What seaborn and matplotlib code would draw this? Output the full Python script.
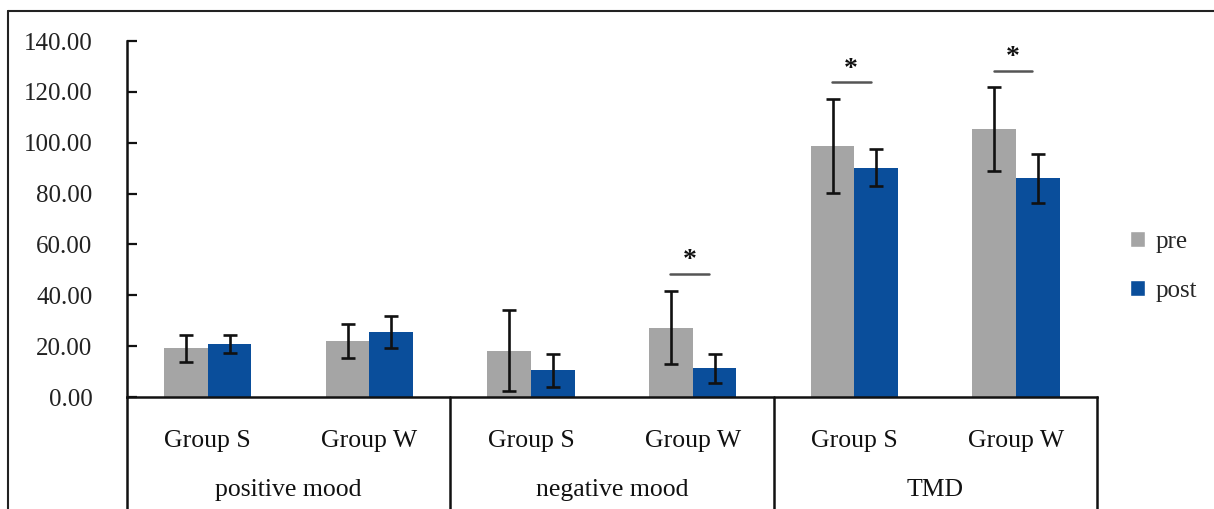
import matplotlib
matplotlib.use("Agg")
import matplotlib.pyplot as plt
import matplotlib.transforms as mtransforms
from matplotlib.patches import Patch
import numpy as np
import pandas as pd
import seaborn as sns

# Mood scores (mean and SD) before and after the intervention
measures = ["positive mood", "negative mood", "TMD"]
groups = ["Group S", "Group W"]
pre_mean = [19.1, 21.9, 18.2, 27.3, 98.7, 105.4]
post_mean = [20.8, 25.6, 10.5, 11.3, 90.2, 86.0]
pre_sd = [5.4, 6.7, 15.9, 14.5, 18.5, 16.4]
post_sd = [3.4, 6.4, 6.6, 5.7, 7.3, 9.7]
significant = [False, False, False, True, True, True]
y_ticks = [0, 20, 40, 60, 80, 100, 120, 140]

PRE_COLOR = "#A5A5A5"
POST_COLOR = "#0A4E9B"
FS = 18

sns.set_theme(style="white")
plt.rcParams["font.family"] = ["Liberation Serif", "DejaVu Serif"]

keys = [f"{m}|{g}" for m in measures for g in groups]
df = pd.DataFrame({
    "key": keys * 2,
    "time": ["pre"] * len(keys) + ["post"] * len(keys),
    "score": pre_mean + post_mean,
})

fig = plt.figure(figsize=(12.14, 5.09), dpi=100)
ax = fig.add_axes([0.1046, 0.22, 0.799, 0.6994])

sns.barplot(data=df, x="key", y="score", hue="time", order=keys,
            hue_order=["pre", "post"], palette=[PRE_COLOR, POST_COLOR],
            width=0.54, errorbar=None, saturation=1, linewidth=0,
            ax=ax, legend=False)

# error bars at the centre of each bar
for cont, sd in zip(ax.containers, [pre_sd, post_sd]):
    xs = [p.get_x() + p.get_width() / 2 for p in cont.patches]
    hs = [p.get_height() for p in cont.patches]
    ax.errorbar(xs, hs, yerr=sd, fmt="none", ecolor="#111111",
                elinewidth=1.9, capsize=5, capthick=1.9, zorder=5)

# significance markers above pre/post pairs
for i, sig in enumerate(significant):
    if not sig:
        continue
    top = pre_mean[i] + pre_sd[i] + 6.5
    ax.plot([i - 0.14, i + 0.1], [top, top], color="#555555", lw=1.8)
    ax.text(i - 0.02, top + 0.3, "*", ha="center", va="bottom",
            fontsize=20, fontweight="bold", color="#111111")

ax.set_ylim(0, 140)
ax.set_xlim(-0.5, len(keys) - 0.5)
ax.set_yticks(y_ticks)
ax.set_yticklabels([f"{v:.2f}" for v in y_ticks], fontsize=FS, color="#222222")
ax.tick_params(axis="y", direction="in", length=7, width=1.6, color="#111111",
               left=True, pad=25)
ax.set_xticks(range(len(keys)))
ax.set_xticklabels(groups * len(measures), fontsize=FS + 0.5, color="#111111")
ax.tick_params(axis="x", length=0, pad=24)
ax.set_xlabel("")
ax.set_ylabel("")

for side in ["top", "right"]:
    ax.spines[side].set_visible(False)
for side in ["left", "bottom"]:
    ax.spines[side].set_color("#111111")
    ax.spines[side].set_linewidth(1.8)

# category separators below the axis and measure names
trans = mtransforms.blended_transform_factory(ax.transData, ax.transAxes)
for b in [-0.5, 1.5, 3.5, 5.5]:
    ax.plot([b, b], [0, -0.34], transform=trans, color="#111111",
            lw=1.8, clip_on=False)
for j, m in enumerate(measures):
    ax.text(2 * j + 0.5, -0.262, m, transform=trans, ha="center", va="center",
            fontsize=FS + 0.5, color="#111111")

handles = [Patch(facecolor=PRE_COLOR, label="pre"),
           Patch(facecolor=POST_COLOR, label="post")]
fig.legend(handles=handles, loc="center left", bbox_to_anchor=(0.912, 0.476),
           frameon=False, fontsize=FS, handlelength=0.6, handleheight=0.6,
           handletextpad=0.45, labelspacing=1.08)

# outer frame
fig.add_artist(plt.Line2D([0.0066, 0.0066], [0, 0.978], color="#222222", lw=1.5))
fig.add_artist(plt.Line2D([0.0066, 1.0], [0.978, 0.978], color="#222222", lw=1.5))

fig.savefig("out.png", dpi=100)
